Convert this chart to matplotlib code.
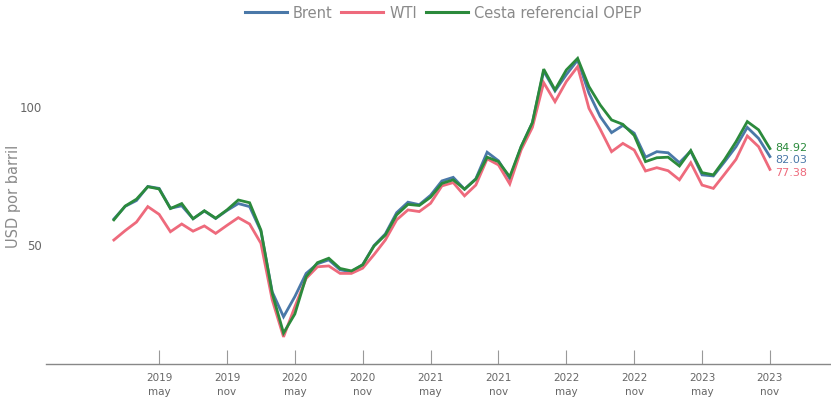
import matplotlib
matplotlib.use("Agg")
import matplotlib.pyplot as plt
from matplotlib.lines import Line2D

months = ["ene", "feb", "mar", "abr", "may", "jun", "jul", "ago", "sep", "oct", "nov", "dic"]
years = [2019, 2020, 2021, 2022, 2023]
dates = [(y, m) for y in years for m in months][:59]  # Jan 2019 .. Nov 2023

brent = [59.4, 64.0, 66.1, 71.2, 70.5, 63.3, 64.2, 59.5, 62.3, 59.6, 62.5, 65.0,
         63.9, 55.0, 33.0, 24.0, 31.3, 39.7, 43.2, 44.6, 41.0, 40.3, 42.9, 49.8,
         54.0, 61.7, 65.5, 64.6, 68.0, 73.2, 74.5, 70.2, 74.0, 83.6, 80.5, 74.0,
         85.5, 94.3, 113.0, 105.8, 111.7, 117.0, 105.0, 96.5, 90.7, 93.3, 90.5, 81.8,
         83.8, 83.4, 79.8, 84.0, 75.4, 75.0, 80.2, 85.6, 92.6, 88.6, 82.03]
wti = [51.8, 55.2, 58.3, 63.9, 61.1, 54.8, 57.6, 55.0, 56.9, 54.2, 57.1, 59.9,
       57.6, 50.6, 30.1, 16.7, 27.6, 37.9, 42.1, 42.4, 39.7, 39.7, 41.6, 46.5,
       51.8, 59.1, 62.7, 62.1, 65.1, 71.4, 72.6, 67.8, 71.7, 81.2, 79.0, 72.1,
       84.4, 92.6, 108.8, 101.9, 109.2, 114.6, 99.5, 91.9, 83.8, 86.8, 84.4, 76.8,
       78.0, 76.9, 73.6, 79.8, 71.7, 70.5, 75.7, 81.0, 89.5, 85.6, 77.38]
opep = [59.1, 64.1, 66.6, 71.1, 70.3, 63.2, 65.0, 59.5, 62.4, 59.7, 62.7, 66.3,
        65.3, 55.4, 32.5, 18.1, 25.0, 38.5, 43.6, 45.2, 41.5, 40.6, 42.8, 49.6,
        53.6, 60.9, 64.7, 64.3, 67.3, 72.3, 73.6, 70.2, 73.8, 81.8, 80.2, 74.7,
        85.6, 94.3, 113.7, 106.2, 113.4, 117.6, 107.4, 100.7, 95.3, 93.7, 89.7, 80.2,
        81.6, 81.8, 78.6, 84.2, 76.2, 75.4, 81.0, 87.4, 94.7, 91.7, 84.92]

series_names = ["Brent", "WTI", "Cesta referencial OPEP"]
colors = ["#4a78a8", "#ee6a7c", "#2b8a3c"]
tick_months = ["may", "nov"]
y_ticks = [50, 100]
y_label = "USD por barril"

W, H = 831, 398
fig = plt.figure(figsize=(W / 100, H / 100), dpi=100)
ax_left, ax_right, ax_top, ax_bottom = 46, 831, 20, 364
ax = fig.add_axes([ax_left / W, 1 - ax_bottom / H, (ax_right - ax_left) / W, (ax_bottom - ax_top) / H])

x = list(range(len(dates)))
data = [brent, wti, opep]
for vals, c, name in zip(data, colors, series_names):
    ax.plot(x, vals, color=c, lw=2.0, solid_joinstyle="miter", label=name)

ax.set_xlim(-6.0, 63.4)
ax.set_ylim(6.88, 131.5)

gray = "#8a8a8a"
tick_gray = "#666666"

tick_pos = [i for i, d in enumerate(dates) if d[1] in tick_months]
ax.set_xticks(tick_pos)
ax.set_xticklabels([""] * len(tick_pos))
ax.tick_params(axis="x", direction="in", length=10, width=0.8, color="#999999")
for i in tick_pos:
    ax.text(i, -0.04, str(dates[i][0]), transform=ax.get_xaxis_transform(),
            ha="center", va="center", fontsize=7.5, color=tick_gray)
    ax.text(i, -0.08, dates[i][1], transform=ax.get_xaxis_transform(),
            ha="center", va="center", fontsize=7.5, color=tick_gray)

ax.set_yticks(y_ticks)
ax.set_yticklabels([str(v) for v in y_ticks], fontsize=8.5, color=tick_gray)
ax.tick_params(axis="y", length=0, pad=3)

for s in ["top", "right", "left"]:
    ax.spines[s].set_visible(False)
ax.spines["bottom"].set_color("#888888")
ax.spines["bottom"].set_linewidth(1.0)

fig.text(14 / W, 1 - 196 / H, y_label, rotation=90, ha="center", va="center",
         fontsize=10.5, color=gray)

# end labels
end_vals = [opep[-1], brent[-1], wti[-1]]
end_cols = [colors[2], colors[0], colors[1]]
end_y_px = [148, 160, 173]
for v, c, py in zip(end_vals, end_cols, end_y_px):
    fig.text(775 / W, 1 - py / H, f"{v:.2f}", ha="left", va="center",
             fontsize=8, color=c)

handles = [Line2D([0], [0], color=c, lw=2.2) for c in colors]
leg = fig.legend(handles, series_names, loc="center", bbox_to_anchor=(443 / W, 1 - 13 / H),
                 ncol=3, frameon=False, fontsize=10.5, handlelength=2.9, handletextpad=0.4,
                 columnspacing=0.6, borderaxespad=0)
for t in leg.get_texts():
    t.set_color(gray)

fig.savefig("out.png", dpi=100)
